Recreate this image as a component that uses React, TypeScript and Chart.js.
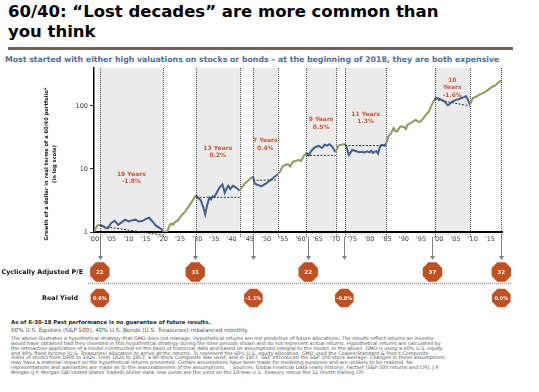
import React, { useEffect, useRef } from "react";
import { Chart, registerables } from "chart.js";
Chart.register(...registerables);

const FONT = '"DejaVu Sans", Verdana, sans-serif';

// Growth of a dollar (real, 60/40)
const years = [
  1900, 1900.5, 1901, 1901.7, 1902.5, 1903.3, 1904, 1905, 1906, 1907, 1908, 1909, 1910, 1911, 1912, 1913, 1914, 1915, 1916, 1917, 1918, 1919, 1919.5, 1920,
  1920.5, 1921.2, 1922, 1922.5, 1923, 1923.5, 1924.4, 1925.4, 1926.4, 1927.4, 1928.4, 1929, 1929.6,
  1930.2, 1931, 1931.6, 1932.3, 1932.8, 1933.5, 1934, 1934.5, 1935, 1936, 1936.6, 1937.3, 1938, 1938.6, 1939, 1939.6, 1940.3, 1941, 1941.6, 1942.3,
  1943, 1943.8, 1944.5, 1945.3, 1946.2,
  1946.6, 1947.3, 1948, 1948.6, 1949.3, 1950, 1950.8, 1951.5, 1952.3, 1953.3,
  1954, 1954.7, 1955.5, 1956.3, 1957, 1957.8, 1958.6, 1959.4, 1960.2, 1961, 1961.7,
  1962.4, 1963, 1963.8, 1964.5, 1965.3, 1966.2, 1967, 1967.7, 1968.4, 1969.2, 1969.9, 1970.2,
  1971, 1972, 1972.9,
  1973.5, 1974, 1974.6, 1975, 1976, 1977, 1978, 1978.5, 1979.3, 1980, 1980.6, 1981, 1982, 1982.5, 1983, 1983.5, 1984.4, 1984.9,
  1985.6, 1986.2, 1987, 1987.5, 1988, 1989, 1990, 1990.6, 1991, 1992, 1993.4, 1994.3, 1994.9, 1995.7, 1996.4, 1997.2, 1997.9, 1998.9,
  1999.4, 2000.4, 2001.1, 2001.8, 2002.8, 2003.8, 2004.5, 2005.3, 2006, 2006.7, 2007.5, 2008, 2008.6, 2009.2,
  2010, 2011, 2011.9, 2013, 2013.9, 2015, 2015.8, 2016.5, 2017.3, 2018.3,
];
const values = [
  1.0, 1.15, 1.27, 1.3, 1.25, 1.16, 1.14, 1.39, 1.51, 1.3, 1.42, 1.57, 1.47, 1.53, 1.57, 1.47, 1.49, 1.6, 1.68, 1.47, 1.26, 1.16, 1.12, 1.06,
  1.0, 1.0, 1.3, 1.36, 1.3, 1.44, 1.53, 1.84, 2.08, 2.5, 3.0, 3.4, 3.85,
  3.5, 3.2, 2.6, 1.9, 2.6, 3.5, 3.3, 3.7, 3.6, 4.6, 5.2, 5.7, 4.2, 5.0, 5.4, 4.8, 5.4, 5.2, 4.9, 4.5,
  5.2, 5.9, 6.3, 7.0, 7.6,
  6.0, 5.6, 5.5, 5.3, 5.6, 5.9, 6.4, 6.8, 7.4, 8.2,
  9.0, 10.9, 11.6, 11.9, 11.0, 13.1, 13.4, 13.9, 13.5, 16.3, 18.0,
  16.5, 19.0, 21.3, 22.5, 23.2, 21.5, 24.2, 23.5, 24.7, 22.7, 19.3, 18.5,
  23.5, 24.5, 25.0,
  21, 16.7, 18.5, 20, 19.3, 18.4, 18.8, 18.2, 19.0, 18.4, 19.5, 18.0, 19.3, 17.5, 22.0, 24.2, 23.5, 25.5,
  33.8, 36, 44.6, 40, 39.6, 47.4, 46.3, 43, 50, 53.7, 60.2, 56, 56.9, 64, 72.8, 80, 98.5, 126,
  134, 129, 124, 118, 102, 114, 120, 126, 128, 134, 138, 143, 126, 104,
  134, 140, 151, 160, 171, 190, 204, 210, 233, 254,
];

// "Lost decades"
const decadeStarts = [1901.7, 1929.6, 1946.2, 1961.7, 1972.9, 1998.9];
const decadeEnds = [1920, 1942.3, 1953.3, 1970.2, 1984.9, 2009.2];
const decadeStartValues = [1.25, 3.55, 6.6, 16.4, 23.5, 127];
const decadeEndValues = [0.89, 3.55, 6.7, 16.4, 23.5, 100];
const decadeLabels = [
  ["19 Years", "-1.8%"],
  ["13 Years", "0.2%"],
  ["7 Years", "0.4%"],
  ["9 Years", "0.5%"],
  ["11 Years", "1.3%"],
  ["10", "Years", "-1.6%"],
];
const decadeLabelValues = [7.2, 18.7, 24.4, 52.8, 64.4, 194];
const currentYear = 2018.3;

const tickYears = [1900, 1905, 1910, 1915, 1920, 1925, 1930, 1935, 1940, 1945, 1950, 1955, 1960, 1965, 1970, 1975, 1980, 1985, 1990, 1995, 2000, 2005, 2010, 2015];
const yTicks = [1, 10, 100];

// Valuation markers
const capeYears = [1901.7, 1929.4, 1962.2, 1998.3, 2018.3];
const capeValues = ["22", "31", "22", "37", "32"];
const arrowOnlyYears = [1946.3, 1972.7];
const yieldYears = [1901.7, 1946.3, 1972.7, 2018.3];
const yieldValues = ["0.6%", "-1.1%", "-0.8%", "0.0%"];

const GREEN = "#8c9b5a";
const BLUE = "#3f6190";
const ORANGE = "#c2501e";
const LABEL_RED = "#d0562b";

const footerLines = [
  "The above illustrates a hypothetical strategy that GMO does not manage. Hypothetical returns are not predictive of future allocations. The results reflect returns an investor",
  "would have obtained had they invested in this hypothetical strategy during the time periods shown and do not represent actual returns. Hypothetical returns are calculated by",
  "the retroactive application of a model constructed on the basis of historical data and based on assumptions integral to the model. In the above, GMO is using a 60% U.S. equity",
  "and 40% fixed income (U.S. Treasuries) allocation to arrive at the returns. To represent the 60% U.S. equity allocation, GMO used the Cowles/Standard & Poor's Composite",
  "index of stocks from 1900 to 1926. From 1926 to 1957, a 90-stock Composite was used, and in 1957, S&P introduced the S&P 500 stock average. Changes in these assumptions",
  "may have a material impact on the hypothetical returns presented. Certain assumptions have been made for modeling purposes and are unlikely to be realized. No",
  "representations and warranties are made as to the reasonableness of the assumptions.\u00a0\u00a0\u00a0\u00a0\u00a0Sources: Global Financial Data (early history), Factset (S&P 500 returns and CPI), J.P.",
  "Morgan (J.P. Morgan GBI United States Traded) Shiller data; real yields are the yield on the 10-Year U.S. Treasury minus the 12 month trailing CPI.",
];

function octagon(ctx: CanvasRenderingContext2D, cx: number, cy: number, r: number) {
  ctx.beginPath();
  for (let i = 0; i < 8; i++) {
    const a = Math.PI / 8 + (i * Math.PI) / 4;
    const px = cx + r * Math.cos(a);
    const py = cy + r * Math.sin(a);
    if (i === 0) ctx.moveTo(px, py);
    else ctx.lineTo(px, py);
  }
  ctx.closePath();
  ctx.fill();
}

function arrow(ctx: CanvasRenderingContext2D, x: number, y0: number, y1: number) {
  ctx.strokeStyle = "#808080";
  ctx.fillStyle = "#808080";
  ctx.lineWidth = 1;
  ctx.setLineDash([]);
  ctx.beginPath();
  ctx.moveTo(x, y0);
  ctx.lineTo(x, y1 - 3);
  ctx.stroke();
  ctx.beginPath();
  ctx.moveTo(x - 2.5, y1 - 4);
  ctx.lineTo(x + 2.5, y1 - 4);
  ctx.lineTo(x, y1);
  ctx.closePath();
  ctx.fill();
}

const overlayPlugin = {
  id: "overlay",
  beforeDraw(chart: any) {
    const { ctx, chartArea: a, scales } = chart;
    const x = scales.x;
    ctx.save();
    ctx.fillStyle = "#ebebeb";
    decadeStarts.forEach((s, i) => {
      const x0 = x.getPixelForValue(s);
      const x1 = x.getPixelForValue(decadeEnds[i]);
      ctx.fillRect(x0, a.top, x1 - x0, a.bottom - a.top + 3);
    });
    ctx.strokeStyle = "#4a4a4a";
    ctx.lineWidth = 1;
    ctx.setLineDash([1, 1]);
    [...decadeStarts, ...decadeEnds, currentYear].forEach((v) => {
      const px = Math.round(x.getPixelForValue(v)) + 0.5;
      ctx.beginPath();
      ctx.moveTo(px, a.top);
      ctx.lineTo(px, a.bottom + 5);
      ctx.stroke();
    });
    ctx.restore();
  },
  afterDraw(chart: any) {
    const { ctx, chartArea: a, scales } = chart;
    const x = scales.x;
    const y = scales.y;
    ctx.save();
    // decade labels
    ctx.fillStyle = LABEL_RED;
    ctx.font = `bold 6px ${FONT}`;
    ctx.textAlign = "center";
    ctx.textBaseline = "middle";
    decadeLabels.forEach((lines, i) => {
      const cx = (x.getPixelForValue(decadeStarts[i]) + x.getPixelForValue(decadeEnds[i])) / 2;
      const cy = y.getPixelForValue(decadeLabelValues[i]);
      const lh = 7.4;
      lines.forEach((t, j) => {
        ctx.fillText(t, cx, cy + (j - (lines.length - 1) / 2) * lh);
      });
    });

    // y axis title
    ctx.save();
    ctx.translate(50.5, a.top + 96);
    ctx.rotate(-Math.PI / 2);
    ctx.fillStyle = "#111";
    ctx.font = `bold 5.2px ${FONT}`;
    ctx.textAlign = "center";
    ctx.textBaseline = "middle";
    ctx.fillText("Growth of a dollar in real terms of a 60/40 portfolio*", 0, -4);
    ctx.fillText("(in log scale)", 0, 4);
    ctx.restore();

    const capeY = a.bottom + 40;
    const yieldY = a.bottom + 66;
    // arrows
    [...capeYears, ...arrowOnlyYears].forEach((v) => {
      const px = Math.round(x.getPixelForValue(v)) + 0.5;
      arrow(ctx, px, a.bottom + 5, a.bottom + 28);
    });
    // separator
    ctx.strokeStyle = "#9a9a9a";
    ctx.lineWidth = 1.5;
    ctx.setLineDash([1, 1]);
    ctx.beginPath();
    ctx.moveTo(88, a.bottom + 51.5);
    ctx.lineTo(511, a.bottom + 51.5);
    ctx.stroke();
    ctx.setLineDash([]);

    // circles
    ctx.textAlign = "center";
    ctx.textBaseline = "middle";
    capeYears.forEach((v, i) => {
      const px = x.getPixelForValue(v);
      ctx.fillStyle = ORANGE;
      octagon(ctx, px, capeY, 10.5);
      ctx.fillStyle = "#fff";
      ctx.font = `bold 5.5px ${FONT}`;
      ctx.fillText(capeValues[i], px, capeY + 0.5);
    });
    yieldYears.forEach((v, i) => {
      const px = x.getPixelForValue(v);
      ctx.fillStyle = ORANGE;
      octagon(ctx, px, yieldY, 10);
      ctx.fillStyle = "#fff";
      ctx.font = `bold 5px ${FONT}`;
      ctx.fillText(yieldValues[i], px, yieldY + 0.5);
    });

    // row labels
    ctx.fillStyle = "#111";
    ctx.font = `bold 6.4px ${FONT}`;
    ctx.textAlign = "right";
    ctx.fillText("Cyclically Adjusted P/E", 83, capeY);
    ctx.fillText("Real Yield", 78, yieldY);
    ctx.restore();
  },
};

export default function App() {
  const ref = useRef<HTMLCanvasElement | null>(null);

  useEffect(() => {
    if (!ref.current) return;
    const lineData = years.map((yr, i) => ({ x: yr, y: values[i] }));
    const inDecade = (v: number) => decadeStarts.some((s, i) => v > s && v < decadeEnds[i]);
    const dashed = decadeStarts.map((s, i) => ({
      data: [
        { x: s, y: decadeStartValues[i] },
        { x: decadeEnds[i], y: decadeEndValues[i] },
      ],
      borderColor: "#333",
      borderWidth: 1,
      borderDash: [2, 1.5],
      pointRadius: 0,
      clip: false as any,
      order: 1,
    }));
    const chart = new Chart(ref.current, {
      type: "line",
      data: {
        datasets: [
          {
            data: lineData,
            borderWidth: 2,
            pointRadius: 0,
            borderColor: GREEN,
            segment: {
              borderColor: (c: any) => (inDecade((c.p0.parsed.x + c.p1.parsed.x) / 2) ? BLUE : GREEN),
            },
            order: 2,
          } as any,
          ...dashed,
        ],
      },
      options: {
        animation: false,
        responsive: false,
        maintainAspectRatio: false,
        events: [],
        layout: { padding: { top: 6, right: 37, left: 0, bottom: 0 } },
        plugins: { legend: { display: false }, tooltip: { enabled: false } },
        scales: {
          x: {
            type: "linear",
            min: 1900,
            max: 2018.5,
            afterFit: (s: any) => {
              s.height = 82;
            },
            afterBuildTicks: (s: any) => {
              s.ticks = tickYears.map((v) => ({ value: v }));
            },
            grid: { display: true, drawOnChartArea: false, drawTicks: false },
            border: { color: "#000", width: 2 },
            ticks: {
              padding: 3,
              color: "#444",
              font: { family: FONT, size: 6.5 },
              maxRotation: 0,
              autoSkip: false,
              callback: (v: any) => "'" + String(Number(v) % 100).padStart(2, "0"),
            },
          },
          y: {
            type: "logarithmic",
            min: 1,
            max: 400,
            afterFit: (s: any) => {
              s.width = 94;
            },
            afterBuildTicks: (s: any) => {
              s.ticks = yTicks.map((v) => ({ value: v }));
            },
            grid: { display: true, drawOnChartArea: false, drawTicks: true, tickLength: 4, color: "#333" },
            border: { color: "#000", width: 1.5 },
            ticks: {
              padding: 2,
              color: "#333",
              font: { family: FONT, size: 6.5 },
              callback: (v: any) => String(v),
            },
          },
        },
      },
      plugins: [overlayPlugin],
    });
    return () => chart.destroy();
  }, []);

  return (
    <div style={{ position: "absolute", left: 0, top: 0, width: 539, height: 392, background: "#fff", overflow: "hidden", fontFamily: FONT }}>
      <div style={{ position: "absolute", left: 8, top: 2, width: 520, fontSize: 16.5, lineHeight: "20px", fontWeight: "bold", color: "#000" }}>
        60/40: “Lost decades” are more common than
        <br />
        you think
      </div>
      <div style={{ position: "absolute", left: 8, top: 47, width: 505, height: 3, background: "#6d655d" }} />
      <div style={{ position: "absolute", left: 5, top: 55, whiteSpace: "nowrap", fontSize: 7.8, lineHeight: "10px", fontWeight: "bold", color: "#4f6f96" }}>
        Most started with either high valuations on stocks or bonds – at the beginning of 2018, they are both expensive
      </div>
      <canvas ref={ref} width={539} height={252} style={{ position: "absolute", left: 0, top: 62, width: 539, height: 252 }} />
      <div style={{ position: "absolute", left: 11, top: 319, whiteSpace: "nowrap", fontSize: 5.4, lineHeight: "7px", fontWeight: "bold", color: "#222" }}>
        As of 6-30-18 Past performance is no guarantee of future results.
      </div>
      <div style={{ position: "absolute", left: 11, top: 327, whiteSpace: "nowrap", fontSize: 5.7, lineHeight: "7px", color: "#555" }}>
        60% U.S. Equities (S&amp;P 500), 40% U.S. Bonds (U.S. Treasuries) rebalanced monthly.
      </div>
      <div style={{ position: "absolute", left: 11, top: 335.8, fontSize: 4.9, lineHeight: "4.9px", color: "#555", whiteSpace: "nowrap" }}>
        {footerLines.map((l, i) => (
          <div key={i}>{l}</div>
        ))}
      </div>
    </div>
  );
}
